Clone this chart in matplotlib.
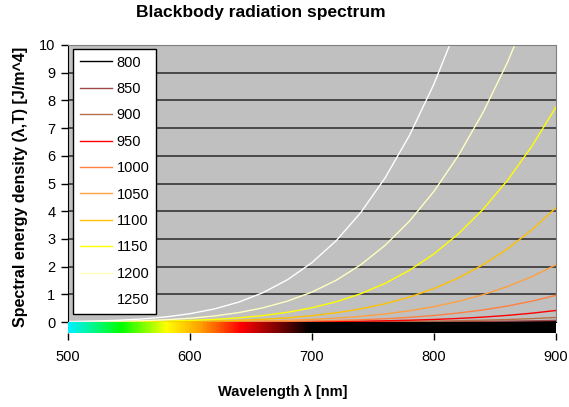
import numpy as np
import matplotlib
matplotlib.use('Agg')
import matplotlib.pyplot as plt
from matplotlib.colors import LinearSegmentedColormap

plt.rcParams['font.family'] = ['Liberation Sans', 'DejaVu Sans']

# wavelength in nm
wavelength = [500, 520, 540, 560, 580, 600, 620, 640, 660, 680, 700,
              720, 740, 760, 780, 800, 820, 840, 860, 880, 900]

temps = ['800', '850', '900', '950', '1000', '1050', '1100', '1150', '1200', '1250']

u800 = [0.0, 0.0, 0.0, 0.0, 0.0, 0.0, 0.0, 0.0, 0.0001, 0.0001, 0.0002,
        0.0004, 0.0006, 0.0010, 0.0017, 0.0026, 0.0040, 0.0060, 0.0088, 0.0126, 0.0177]
u850 = [0.0, 0.0, 0.0, 0.0, 0.0, 0.0, 0.0001, 0.0002, 0.0003, 0.0005, 0.0009,
        0.0016, 0.0026, 0.0042, 0.0065, 0.0099, 0.0146, 0.0211, 0.0300, 0.0419, 0.0574]
u900 = [0.0, 0.0, 0.0, 0.0, 0.0001, 0.0002, 0.0003, 0.0007, 0.0012, 0.0021, 0.0036,
        0.0059, 0.0093, 0.0144, 0.0217, 0.0319, 0.0459, 0.0648, 0.0897, 0.1219, 0.1632]
u950 = [0.0, 0.0, 0.0001, 0.0002, 0.0003, 0.0007, 0.0013, 0.0025, 0.0043, 0.0073, 0.0119,
        0.0189, 0.0291, 0.0436, 0.0638, 0.0914, 0.1282, 0.1764, 0.2385, 0.3172, 0.4157]
u1000 = [0.0001, 0.0001, 0.0003, 0.0006, 0.0013, 0.0025, 0.0045, 0.0080, 0.0136, 0.0222, 0.0352,
         0.0541, 0.0809, 0.1181, 0.1685, 0.2355, 0.3228, 0.4345, 0.5754, 0.7501, 0.9642]
u1050 = [0.0002, 0.0005, 0.0010, 0.0021, 0.0042, 0.0077, 0.0137, 0.0234, 0.0383, 0.0608, 0.0936,
         0.1400, 0.2042, 0.2909, 0.4057, 0.5546, 0.7443, 0.9822, 1.2762, 1.6339, 2.0644]
u1100 = [0.0007, 0.0016, 0.0033, 0.0065, 0.0122, 0.0219, 0.0375, 0.0619, 0.0985, 0.1520, 0.2279,
         0.3326, 0.4739, 0.6603, 0.9016, 1.2082, 1.5910, 2.0619, 2.6332, 3.3164, 4.1243]
u1150 = [0.0022, 0.0047, 0.0094, 0.0180, 0.0326, 0.0564, 0.0939, 0.1505, 0.2333, 0.3509, 0.5135,
         0.7328, 1.0219, 1.3956, 1.8692, 2.4596, 3.1833, 4.0576, 5.1017, 6.3286, 7.7583]
u1200 = [0.0062, 0.0127, 0.0247, 0.0456, 0.0800, 0.1346, 0.2176, 0.3397, 0.5139, 0.7553, 1.0812,
         1.5115, 2.0673, 2.7710, 3.6466, 4.7189, 6.0109, 7.5473, 9.3520, 11.445, 13.847]
u1250 = [0.0161, 0.0320, 0.0601, 0.1073, 0.1830, 0.2993, 0.4716, 0.7188, 1.0628, 1.5290, 2.1455,
         2.9424, 3.9523, 5.2084, 6.744, 8.594, 10.79, 13.36, 16.33, 19.74, 23.59]

series = [u800, u850, u900, u950, u1000, u1050, u1100, u1150, u1200, u1250]
colors = ['#000000', '#A0484A', '#B87048', '#FF0000', '#FF8040',
          '#FFA040', '#FFC000', '#FFFF00', '#FFFFC0', '#FFFFFF']

# visible spectrum strip under the plot
spec_nm = [500, 543, 580, 608, 641, 671, 698, 900]
spec_col = ['#00F0FF', '#00FF00', '#FFFF00', '#FFA000', '#FF0000', '#800000', '#000000', '#000000']

W, H = 569, 407
fig = plt.figure(figsize=(W / 100, H / 100), dpi=100)

ax = fig.add_axes([68 / W, 1 - 322 / H, 488 / W, 277 / H])
ax.set_facecolor('#C0C0C0')
for y in range(1, 10):
    ax.axhline(y, color='#282828', lw=1.1, zorder=1)
for t, u, c in zip(temps, series, colors):
    ax.plot(wavelength, u, color=c, lw=1.0, label=t, zorder=2)
ax.set_xlim(500, 900)
ax.set_ylim(0, 10)
ax.set_xticks([])
ax.set_yticks(range(0, 11))
ax.tick_params(axis='y', direction='out', length=5, width=1, labelsize=10.5, pad=4)
ax.spines['top'].set_color('#808080')
ax.spines['right'].set_color('#808080')
ax.spines['left'].set_color('black')
ax.spines['bottom'].set_color('black')

leg = ax.legend(loc='upper left', bbox_to_anchor=(5 / 488, 1 - 4 / 277), borderaxespad=0,
                fontsize=10.5, frameon=True, fancybox=False, edgecolor='black',
                handlelength=2.2, handletextpad=0.35, labelspacing=0.85, borderpad=0.45)
leg.get_frame().set_linewidth(1.0)
leg.get_frame().set_facecolor('white')
leg.get_frame().set_alpha(1)

# spectrum strip
bx = fig.add_axes([68 / W, 1 - 333 / H, 488 / W, 11 / H])
pos = [(n - 500) / 400 for n in spec_nm]
cmap = LinearSegmentedColormap.from_list('spec', list(zip(pos, spec_col)))
bx.imshow(np.linspace(0, 1, 400)[None, :], cmap=cmap, aspect='auto',
          extent=[500, 900, 0, 1])
bx.set_xlim(500, 900)
bx.set_yticks([])
bx.set_xticks([500, 600, 700, 800, 900])
bx.tick_params(axis='x', direction='out', length=5, width=1, labelsize=10.5, pad=7)
for s in bx.spines.values():
    s.set_visible(False)

fig.text(261 / W, 1 - 12 / H, 'Blackbody radiation spectrum', ha='center', va='center',
         fontsize=12.5, fontweight='bold')
fig.text(283 / W, 1 - 392 / H, 'Wavelength λ [nm]', ha='center', va='center',
         fontsize=10.5, fontweight='bold')
fig.text(20 / W, 1 - 187 / H, 'Spectral energy density (λ,T) [J/m^4]', ha='center',
         va='center', rotation=90, fontsize=11.5, fontweight='bold')

fig.savefig('out.png', dpi=100)
